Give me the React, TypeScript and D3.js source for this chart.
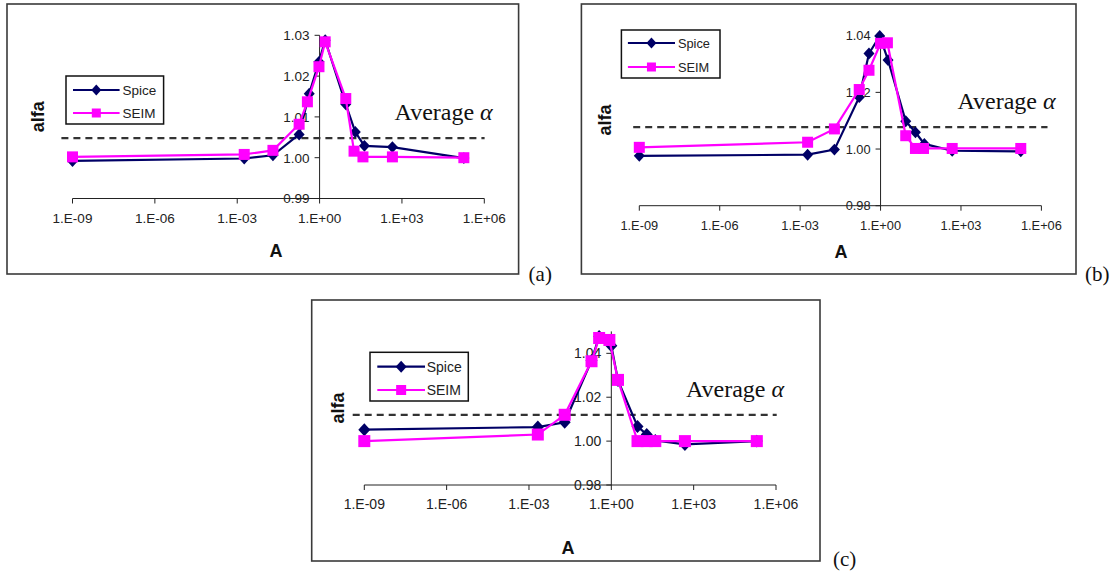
import React from 'react';
import * as d3 from 'd3';

// ---------- data ----------
const xTickValues = [1e-9, 1e-6, 1e-3, 1, 1e3, 1e6];
const xTickLabels = ['1.E-09', '1.E-06', '1.E-03', '1.E+00', '1.E+03', '1.E+06'];
const seriesNames = ['Spice', 'SEIM'];

// panel (a)
const aSpiceA = [1e-9, 1.8e-3, 2e-2, 0.18, 0.42, 0.95, 1.6, 9, 20, 43, 450, 1.8e5];
const aSpiceAlfa = [0.9992, 0.9998, 1.0006, 1.0057, 1.0157, 1.0235, 1.0288, 1.0131, 1.0063, 1.0029, 1.0026, 0.9999];
const aSeimA = [1e-9, 1.8e-3, 2e-2, 0.18, 0.36, 0.95, 1.6, 9, 18, 38, 450, 1.8e5];
const aSeimAlfa = [1.0002, 1.0008, 1.0018, 1.0082, 1.0137, 1.0223, 1.0284, 1.0145, 1.0016, 1.0002, 1.0002, 1.0];
const aYTicks = [0.99, 1.0, 1.01, 1.02, 1.03];
const aAverage = 1.0048;

// panel (b)
const bSpiceA = [1e-9, 1.9e-3, 1.9e-2, 0.16, 0.37, 0.93, 1.9, 8.7, 20, 43, 470, 1.7e5];
const bSpiceAlfa = [0.9976, 0.998, 0.9998, 1.0183, 1.0337, 1.0399, 1.0314, 1.0098, 1.0059, 1.0018, 0.9994, 0.9992];
const bSeimA = [1e-9, 1.9e-3, 1.9e-2, 0.16, 0.37, 1, 1.8, 8.7, 20, 40, 470, 1.7e5];
const bSeimAlfa = [1.0006, 1.0024, 1.0071, 1.021, 1.0278, 1.0373, 1.0375, 1.0047, 1.0002, 1.0002, 1.0002, 1.0002];
const bYTicks = [0.98, 1.0, 1.02, 1.04];
const bAverage = 1.0077;

// panel (c)
const cSpiceA = [1e-9, 2.1e-3, 2e-2, 0.19, 0.36, 1, 1.75, 9, 19.5, 40, 480, 2e5];
const cSpiceAlfa = [1.0052, 1.0064, 1.0086, 1.0367, 1.0477, 1.0435, 1.0276, 1.0067, 1.003, 1.0003, 0.9985, 1.0];
const cSeimA = [1e-9, 2.1e-3, 2e-2, 0.19, 0.36, 0.85, 1.75, 9, 19.5, 40, 480, 2e5];
const cSeimAlfa = [1.0, 1.003, 1.012, 1.0364, 1.047, 1.0461, 1.0279, 1.0, 1.0, 1.0, 1.0, 1.0];
const cYTicks = [0.98, 1.0, 1.02, 1.04];
const cAverage = 1.012;

// ---------- styling / layout ----------
const SPICE = '#000066';
const SEIM = '#ff00ff';
const SANS = '"Liberation Sans", Arial, sans-serif';
const SERIF = '"Liberation Serif", "Times New Roman", serif';

type Layout = {
  frame: [number, number, number, number];
  xr: [number, number];
  yr: [number, number];
  yDomain: [number, number];
  tickFont: number;
  legend: { x: number; y: number; w: number; h: number; r1: number; r2: number; l0: number; l1: number; tx: number };
  avgText: [number, number];
  dash: [number, number];
  alfa: [number, number];
  aLabel: [number, number];
  tag: [string, number, number];
  marker: number;
};

const layouts: Layout[] = [
  {
    frame: [7, 4, 518.6, 274], xr: [72.5, 484.3], yr: [198.5, 35.3], yDomain: [0.99, 1.03], tickFont: 13.5,
    legend: { x: 66, y: 76, w: 97.6, h: 48, r1: 90, r2: 113, l0: 73, l1: 119.6, tx: 122.5 },
    avgText: [394.6, 119.5], dash: [61.4, 484.6], alfa: [38.2, 116.7], aLabel: [276, 257],
    tag: ['(a)', 528.6, 281], marker: 11,
  },
  {
    frame: [581.4, 4, 1076, 274], xr: [639.3, 1041.4], yr: [205.7, 35.7], yDomain: [0.98, 1.04], tickFont: 12.8,
    legend: { x: 621.4, y: 30, w: 98.6, h: 48, r1: 43, r2: 67, l0: 627.9, l1: 675, tx: 677.9 },
    avgText: [957.5, 109.3], dash: [633.2, 1047.5], alfa: [604.6, 120], aLabel: [841, 258],
    tag: ['(b)', 1085, 281], marker: 11,
  },
  {
    frame: [311.7, 300, 820, 561], xr: [364.3, 776], yr: [485, 331.4], yDomain: [0.98, 1.05], tickFont: 14,
    legend: { x: 370, y: 352.3, w: 98.3, h: 48.7, r1: 366.7, r2: 390, l0: 377.3, l1: 425, tx: 426.7 },
    avgText: [686, 396.7], dash: [352.7, 776.7], alfa: [338, 408], aLabel: [568, 554],
    tag: ['(c)', 833, 566], marker: 12,
  },
];

const panelData = [
  { spiceA: aSpiceA, spice: aSpiceAlfa, seimA: aSeimA, seim: aSeimAlfa, yTicks: aYTicks, avg: aAverage },
  { spiceA: bSpiceA, spice: bSpiceAlfa, seimA: bSeimA, seim: bSeimAlfa, yTicks: bYTicks, avg: bAverage },
  { spiceA: cSpiceA, spice: cSpiceAlfa, seimA: cSeimA, seim: cSeimAlfa, yTicks: cYTicks, avg: cAverage },
];

function Diamond({ cx, cy, s, color }: { cx: number; cy: number; s: number; color: string }) {
  const w = s / 2, h = (s * 1.08) / 2;
  return <path d={`M${cx},${cy - h}L${cx + w},${cy}L${cx},${cy + h}L${cx - w},${cy}Z`} fill={color} />;
}
function Square({ cx, cy, s, color }: { cx: number; cy: number; s: number; color: string }) {
  return <rect x={cx - s / 2} y={cy - s / 2} width={s} height={s} fill={color} />;
}

function Panel({ L, D }: { L: Layout; D: (typeof panelData)[number] }) {
  const x = d3.scaleLog().domain([1e-9, 1e6]).range(L.xr);
  const y = d3.scaleLinear().domain(L.yDomain).range(L.yr);
  const line = d3.line<[number, number]>().x((d) => x(d[0])).y((d) => y(d[1]));
  const spicePts = D.spiceA.map((a, i) => [a, D.spice[i]] as [number, number]);
  const seimPts = D.seimA.map((a, i) => [a, D.seim[i]] as [number, number]);
  const axisY = y(L.yDomain[0]);
  const axisX = x(1);
  const [fx, fy, fx2, fy2] = L.frame;
  const lg = L.legend;
  return (
    <g>
      <rect x={fx} y={fy} width={fx2 - fx} height={fy2 - fy} fill="#fff" stroke="#3a3a3a" strokeWidth={1.6} />
      {/* x axis */}
      <line x1={L.xr[0]} x2={L.xr[1]} y1={axisY} y2={axisY} stroke="#222" strokeWidth={1} />
      {xTickValues.map((v, i) => (
        <g key={i}>
          <line x1={x(v)} x2={x(v)} y1={axisY} y2={axisY + 5} stroke="#222" />
          <text x={x(v)} y={axisY + 24} textAnchor="middle" fontFamily={SANS} fontSize={L.tickFont} fill="#222">
            {xTickLabels[i]}
          </text>
        </g>
      ))}
      {/* y axis */}
      <line x1={axisX} x2={axisX} y1={y(L.yDomain[1])} y2={axisY} stroke="#222" strokeWidth={1} />
      {D.yTicks.map((v, i) => (
        <g key={i}>
          <line x1={axisX - 5} x2={axisX} y1={y(v)} y2={y(v)} stroke="#222" />
          <text x={axisX - 10} y={y(v) + L.tickFont * 0.36} textAnchor="end" fontFamily={SANS} fontSize={L.tickFont} fill="#222">
            {d3.format('.2f')(v)}
          </text>
        </g>
      ))}
      {/* average line */}
      <line x1={L.dash[0]} x2={L.dash[1]} y1={y(D.avg)} y2={y(D.avg)} stroke="#333" strokeWidth={2.2} strokeDasharray="7,5" />
      {/* series */}
      <path d={line(spicePts) || ''} fill="none" stroke={SPICE} strokeWidth={2.2} />
      {spicePts.map((p, i) => (
        <Diamond key={i} cx={x(p[0])} cy={y(p[1])} s={L.marker} color={SPICE} />
      ))}
      <path d={line(seimPts) || ''} fill="none" stroke={SEIM} strokeWidth={2.2} />
      {seimPts.map((p, i) => (
        <Square key={i} cx={x(p[0])} cy={y(p[1])} s={L.marker} color={SEIM} />
      ))}
      {/* legend */}
      <rect x={lg.x} y={lg.y} width={lg.w} height={lg.h} fill="#fff" stroke="#111" strokeWidth={1.5} />
      <line x1={lg.l0} x2={lg.l1} y1={lg.r1} y2={lg.r1} stroke={SPICE} strokeWidth={2.2} />
      <Diamond cx={(lg.l0 + lg.l1) / 2} cy={lg.r1} s={L.marker - 1} color={SPICE} />
      <text x={lg.tx} y={lg.r1 + 5} fontFamily={SANS} fontSize={L.tickFont} fill="#222">{seriesNames[0]}</text>
      <line x1={lg.l0} x2={lg.l1} y1={lg.r2} y2={lg.r2} stroke={SEIM} strokeWidth={2.2} />
      <Square cx={(lg.l0 + lg.l1) / 2} cy={lg.r2} s={L.marker - 2} color={SEIM} />
      <text x={lg.tx} y={lg.r2 + 5} fontFamily={SANS} fontSize={L.tickFont} fill="#222">{seriesNames[1]}</text>
      {/* annotation */}
      <text x={L.avgText[0]} y={L.avgText[1]} fontFamily={SERIF} fontSize={24} fill="#111">
        Average <tspan fontStyle="italic">α</tspan>
      </text>
      {/* axis titles */}
      <text x={L.aLabel[0]} y={L.aLabel[1]} textAnchor="middle" fontFamily={SANS} fontWeight="bold" fontSize={18} fill="#111">A</text>
      <text transform={`translate(${L.alfa[0] + 6},${L.alfa[1]}) rotate(-90)`} textAnchor="middle" fontFamily={SANS} fontWeight="bold" fontSize={18} fill="#111">alfa</text>
      {/* panel tag */}
      <text x={L.tag[1]} y={L.tag[2]} fontFamily={SERIF} fontSize={21} fill="#111">{L.tag[0]}</text>
    </g>
  );
}

export default function App() {
  return (
    <svg width={1117} height={578} style={{ position: 'absolute', left: 0, top: 0, background: '#fff' }}>
      <rect x={0} y={0} width={1117} height={578} fill="#fff" />
      {layouts.map((L, i) => (
        <Panel key={i} L={L} D={panelData[i]} />
      ))}
    </svg>
  );
}
